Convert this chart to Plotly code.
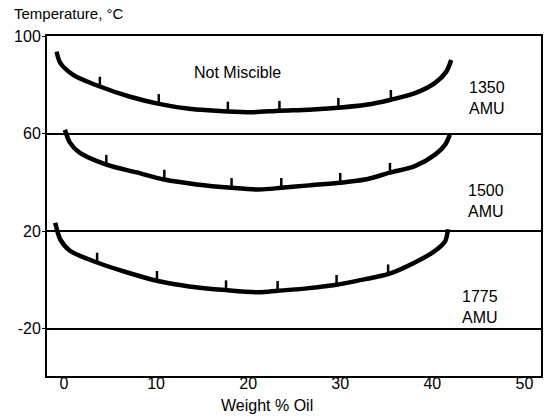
import plotly.graph_objects as go

# ---- data ----
x_ticks = [0, 10, 20, 30, 40, 50]
y_ticks = [100, 60, 20, -20]

c1350_x = [-0.8, -0.4, 1.0, 3.9, 7.1, 10.3, 13.6, 17.8, 20.6, 23.4, 26.6, 29.8, 32.8, 35.5, 38.2, 40.3, 41.5, 42.05]
c1350_y = [93.6, 89.0, 84.1, 79.3, 75.2, 72.2, 70.2, 69.1, 68.8, 69.4, 69.8, 70.6, 71.8, 73.9, 76.7, 80.8, 85.3, 90.2]
p1350_x = [3.9, 10.3, 17.8, 23.4, 29.8, 35.5]
p1350_y = [79.3, 72.2, 69.1, 69.4, 70.6, 73.9]

c1500_x = [0.1, 0.65, 1.7, 4.6, 7.9, 10.9, 14.4, 18.2, 21.2, 23.6, 26.6, 30.0, 32.7, 35.4, 38.1, 40.3, 41.4, 41.9]
c1500_y = [61.6, 56.3, 52.2, 47.3, 44.1, 41.2, 39.2, 37.8, 37.1, 37.8, 38.8, 39.9, 41.2, 44.0, 46.7, 51.4, 55.5, 59.6]
p1500_x = [4.6, 10.9, 18.2, 23.6, 30.0, 35.4]
p1500_y = [47.3, 41.2, 37.8, 37.8, 39.9, 44.0]

c1775_x = [-0.95, -0.4, 0.65, 3.6, 6.8, 10.1, 13.6, 17.6, 21.2, 23.2, 26.6, 29.6, 32.7, 35.2, 38.1, 40.3, 41.4, 41.7]
c1775_y = [23.5, 16.7, 12.0, 7.2, 3.2, -0.3, -2.6, -4.1, -5.0, -4.4, -3.3, -1.9, 0.4, 2.4, 7.2, 12.0, 16.0, 20.8]
p1775_x = [3.6, 10.1, 17.6, 23.2, 29.6, 35.2]
p1775_y = [7.2, -0.3, -4.1, -4.4, -1.9, 2.4]

labels = ["1350<br>AMU", "1500<br>AMU", "1775<br>AMU"]
label_x = [45.9, 45.8, 45.2]
label_y = [74.8, 32.5, -11.0]

FONT = "Liberation Sans, Arial, sans-serif"
FS = 16
TICK_LEN = 4.0

fig = go.Figure()
for cx, cy, px, py in [(c1350_x, c1350_y, p1350_x, p1350_y),
                       (c1500_x, c1500_y, p1500_x, p1500_y),
                       (c1775_x, c1775_y, p1775_x, p1775_y)]:
    fig.add_trace(go.Scatter(x=cx, y=cy, mode="lines",
                             line=dict(color="black", width=4.5, shape="spline", smoothing=0.8),
                             showlegend=False, hoverinfo="skip"))
    fig.add_trace(go.Scatter(x=px, y=py, mode="markers",
                             marker=dict(size=1, color="black"),
                             error_y=dict(type="data", symmetric=False,
                                          array=[TICK_LEN] * len(px), arrayminus=[0] * len(px),
                                          width=0, thickness=2.5, color="black"),
                             showlegend=False, hoverinfo="skip"))

annotations = [
    dict(x=18.8, y=84.9, xref="x", yref="y", text="Not Miscible", showarrow=False,
         font=dict(size=FS, color="black", family=FONT)),
    dict(x=-0.0706, y=1.065, xref="paper", yref="paper", text="Temperature, °C",
         showarrow=False, xanchor="left", yanchor="middle",
         font=dict(size=FS - 1, color="black", family=FONT)),
    dict(x=0.446, y=-0.087, xref="paper", yref="paper", text="Weight % Oil",
         showarrow=False, xanchor="center", yanchor="middle",
         font=dict(size=FS, color="black", family=FONT)),
]
for t, lx, ly in zip(labels, label_x, label_y):
    annotations.append(dict(x=lx, y=ly, xref="x", yref="y", text=t, showarrow=False,
                            font=dict(size=FS, color="black", family=FONT)))

fig.update_layout(
    width=545, height=416,
    margin=dict(l=47, r=2, t=36, b=40),
    paper_bgcolor="white", plot_bgcolor="white",
    font=dict(family=FONT, size=FS, color="black"),
    annotations=annotations,
    xaxis=dict(range=[-1.84, 51.8], tickvals=x_ticks, ticktext=[str(v) for v in x_ticks],
               showgrid=False, zeroline=False, showline=True, linecolor="black", linewidth=2,
               mirror=True, ticks="", ticklabelstandoff=-8,
               tickfont=dict(size=FS, color="black", family=FONT)),
    yaxis=dict(range=[-39.3, 100], tickvals=y_ticks, ticktext=[str(v) for v in y_ticks],
               showgrid=True, gridcolor="black", gridwidth=1.5, zeroline=False,
               showline=True, linecolor="black", linewidth=2, mirror=True,
               ticks="outside", ticklen=3, tickcolor="black", ticklabelstandoff=-2,
               tickfont=dict(size=FS, color="black", family=FONT)),
)

fig.write_html("out.html", config={"displayModeBar": False},
               post_script="document.body.style.margin='0';document.body.style.padding='0';")
